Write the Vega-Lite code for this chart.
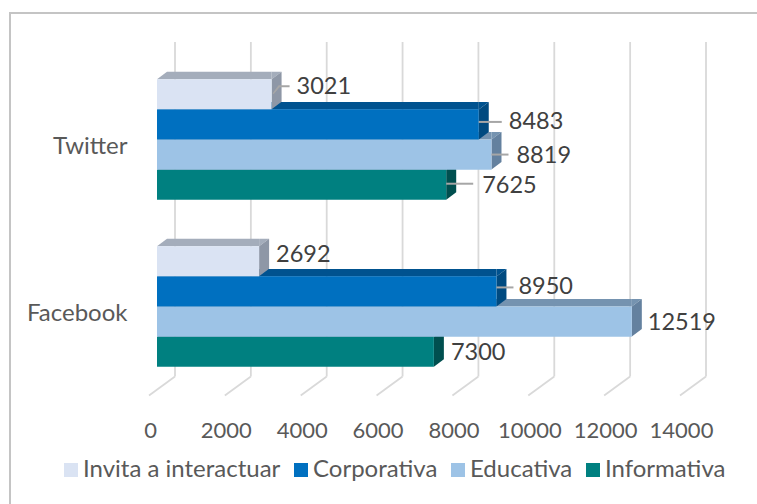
{"$schema":"https://vega.github.io/schema/vega-lite/v6.json","autosize":"none","padding":{"left":10,"top":13,"right":0,"bottom":0},"width":752,"height":495,"background":"#ffffff","view":{"stroke":"#C4C4C4","strokeWidth":2,"fill":"#ffffff"},
"datasets":{"ejes":[{"v":0},{"v":2000},{"v":4000},{"v":6000},{"v":8000},{"v":10000},{"v":12000},{"v":14000}],
"filas":[{"Red":"Twitter","Tipo":"Informativa","Valor":7625},{"Red":"Twitter","Tipo":"Educativa","Valor":8819},{"Red":"Twitter","Tipo":"Corporativa","Valor":8483},{"Red":"Twitter","Tipo":"Invita a interactuar","Valor":3021},{"Red":"Facebook","Tipo":"Informativa","Valor":7300},{"Red":"Facebook","Tipo":"Educativa","Valor":12519},{"Red":"Facebook","Tipo":"Corporativa","Valor":8950},{"Red":"Facebook","Tipo":"Invita a interactuar","Valor":2692}]},
"resolve":{"scale":{"y":"independent"},"axis":{"y":"independent"}},
"layer":[
{"layer":[
{"data":{"name":"ejes"},"mark":{"type":"rule","stroke":"#D9D9D9","strokeWidth":1.8,"xOffset":18,"yOffset":-97.5,"y2Offset":70},
"encoding":{"x":{"field":"v","type":"quantitative","scale":{"domain":[0,14000],"range":[147,678],"nice":false,"zero":false},"axis":{"values":[0,2000,4000,6000,8000,10000,12000,14000],"grid":false,"domain":false,"ticks":false,"title":null,"offset":-88,"labelPadding":0,"labelOffset":-7,"labelFont":"Lato","labelFontSize":22,"labelColor":"#595959","labelBaseline":"top","format":"d","labelOverlap":false,"labelFlush":false}},"y":{"datum":"Twitter","type":"nominal","scale":{"domain":["Twitter","Facebook"],"range":[43,377],"paddingInner":0.278,"paddingOuter":0.139},"axis":{"domain":false,"ticks":false,"title":null,"offset":-119,"labelPadding":2,"labelOffset":7,"labelFont":"Lato","labelFontSize":24,"labelColor":"#595959"}},"y2":{"datum":"Facebook"}}},
{"data":{"name":"ejes"},"mark":{"type":"rule","stroke":"#D9D9D9","strokeWidth":1.8,"xOffset":18,"x2Offset":-8,"yOffset":70,"y2Offset":89},
"encoding":{"x":{"field":"v","type":"quantitative"},"x2":{"field":"v"},"y":{"datum":"Facebook","type":"nominal"},"y2":{"datum":"Facebook"}}}
]},
{"data":{"name":"filas"},"mark":{"type":"rule","strokeWidth":7.5,"x2Offset":10},"encoding":{"x":{"field":"Valor","type":"quantitative"},"x2":{"datum":0},"y":{"field":"Red","type":"nominal","axis":null,"scale":{"domain":["Twitter","Facebook"],"range":[24.25,358.25],"paddingInner":0.278,"paddingOuter":0.139}},"yOffset":{"field":"Tipo","type":"nominal","scale":{"domain":["Invita a interactuar","Corporativa","Educativa","Informativa"],"paddingInner":0,"paddingOuter":0}},"color":{"field":"Tipo","type":"nominal","legend":null,"scale":{"domain":["Invita a interactuar","Corporativa","Educativa","Informativa"],"range":["#A4ADBB","#00528F","#7593B0","#005F5F"]}}}},
{"data":{"name":"filas"},
"encoding":{"x":{"field":"Valor","type":"quantitative"},"y":{"field":"Red","type":"nominal","axis":null,"scale":{"domain":["Twitter","Facebook"],"range":[43,377],"paddingInner":0.278,"paddingOuter":0.139}},"yOffset":{"field":"Tipo","type":"nominal","scale":{"domain":["Invita a interactuar","Corporativa","Educativa","Informativa"],"paddingInner":0,"paddingOuter":0}}},
"resolve":{"scale":{"color":"independent"}},
"layer":[
{"mark":{"type":"point","shape":"M0,-15L10,-22.5L10,-15Z","filled":true,"size":4,"opacity":1,"strokeWidth":0},"encoding":{"x":{"datum":0,"type":"quantitative"},"color":{"field":"Tipo","type":"nominal","legend":null,"scale":{"domain":["Invita a interactuar","Corporativa","Educativa","Informativa"],"range":["#A4ADBB","#00528F","#7593B0","#005F5F"]}}}},
{"mark":{"type":"point","shape":"M0,-15L0,-22.5L10,-22.5Z","filled":true,"size":4,"opacity":1,"strokeWidth":0},"encoding":{"color":{"field":"Tipo","type":"nominal","legend":null,"scale":{"domain":["Invita a interactuar","Corporativa","Educativa","Informativa"],"range":["#A4ADBB","#00528F","#7593B0","#005F5F"]}}}},
{"mark":{"type":"point","shape":"M0,-15L10,-22.5L10,7.5L0,15Z","filled":true,"size":4,"opacity":1,"strokeWidth":0},"encoding":{"color":{"field":"Tipo","type":"nominal","legend":null,"scale":{"domain":["Invita a interactuar","Corporativa","Educativa","Informativa"],"range":["#8E97A6","#004A80","#64819F","#004F4F"]}}}},
{"mark":{"type":"bar"},"encoding":{"color":{"field":"Tipo","type":"nominal","scale":{"domain":["Invita a interactuar","Corporativa","Educativa","Informativa"],"range":["#DAE3F3","#0070C0","#9DC3E6","#008080"]},"legend":{"title":null,"orient":"none","legendX":49,"legendY":445,"direction":"horizontal","columns":4,"symbolType":"square","symbolSize":196,"symbolStrokeWidth":0,"labelFont":"Lato","labelFontSize":24,"labelColor":"#595959","labelLimit":400,"columnPadding":8,"labelOffset":0}}}},
{"transform":[{"filter":"datum.Valor==3021"}],"mark":{"type":"point","shape":"M1,-1L7,-9L18,-9L18,-7L8,-7L2,0Z","filled":true,"size":4,"opacity":1,"strokeWidth":0,"color":"#A6A6A6"}},
{"transform":[{"filter":"datum.Valor==8483"}],"mark":{"type":"point","shape":"M0,-3.5L23,-3.5L23,-1.5L0,-1.5Z","filled":true,"size":4,"opacity":1,"strokeWidth":0,"color":"#A6A6A6"}},
{"transform":[{"filter":"datum.Valor==8819"}],"mark":{"type":"point","shape":"M0,-1L17,-1L17,1L0,1Z","filled":true,"size":4,"opacity":1,"strokeWidth":0,"color":"#A6A6A6"}},
{"transform":[{"filter":"datum.Valor==7625"}],"mark":{"type":"point","shape":"M0,-2L27,-2L27,0L0,0Z","filled":true,"size":4,"opacity":1,"strokeWidth":0,"color":"#A6A6A6"}},
{"transform":[{"filter":"datum.Valor==8950"}],"mark":{"type":"point","shape":"M0,-5L17,-5L17,-3L0,-3Z","filled":true,"size":4,"opacity":1,"strokeWidth":0,"color":"#A6A6A6"}},
{"transform":[{"filter":"datum.Valor==3021"}],"mark":{"type":"text","align":"left","font":"Lato","fontSize":23.5,"fill":"#404040","dx":25,"dy":-7},"encoding":{"text":{"field":"Valor","type":"quantitative","format":"d"}}},
{"transform":[{"filter":"datum.Valor==8483"}],"mark":{"type":"text","align":"left","font":"Lato","fontSize":23.5,"fill":"#404040","dx":30,"dy":-2.5},"encoding":{"text":{"field":"Valor","type":"quantitative","format":"d"}}},
{"transform":[{"filter":"datum.Valor==8819"}],"mark":{"type":"text","align":"left","font":"Lato","fontSize":23.5,"fill":"#404040","dx":25,"dy":1.5},"encoding":{"text":{"field":"Valor","type":"quantitative","format":"d"}}},
{"transform":[{"filter":"datum.Valor==7625"}],"mark":{"type":"text","align":"left","font":"Lato","fontSize":23.5,"fill":"#404040","dx":36,"dy":1},"encoding":{"text":{"field":"Valor","type":"quantitative","format":"d"}}},
{"transform":[{"filter":"datum.Valor==2692"}],"mark":{"type":"text","align":"left","font":"Lato","fontSize":23.5,"fill":"#404040","dx":17,"dy":-6},"encoding":{"text":{"field":"Valor","type":"quantitative","format":"d"}}},
{"transform":[{"filter":"datum.Valor==8950"}],"mark":{"type":"text","align":"left","font":"Lato","fontSize":23.5,"fill":"#404040","dx":22,"dy":-4},"encoding":{"text":{"field":"Valor","type":"quantitative","format":"d"}}},
{"transform":[{"filter":"datum.Valor==12519"}],"mark":{"type":"text","align":"left","font":"Lato","fontSize":23.5,"fill":"#404040","dx":16,"dy":1},"encoding":{"text":{"field":"Valor","type":"quantitative","format":"d"}}},
{"transform":[{"filter":"datum.Valor==7300"}],"mark":{"type":"text","align":"left","font":"Lato","fontSize":23.5,"fill":"#404040","dx":17,"dy":1},"encoding":{"text":{"field":"Valor","type":"quantitative","format":"d"}}}
]}
]}
